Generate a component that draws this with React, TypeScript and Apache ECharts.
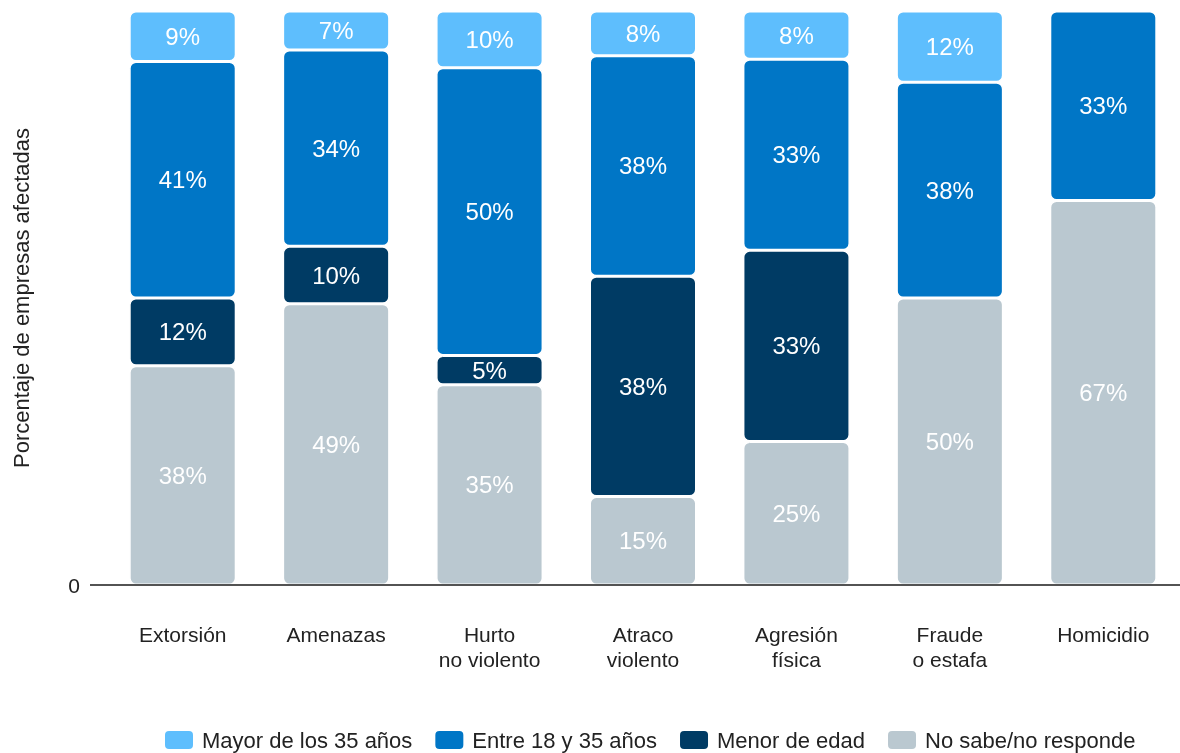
import React, { useEffect, useRef } from "react";
import * as echarts from "echarts";

const categories = [
  "Extorsión",
  "Amenazas",
  "Hurto\nno violento",
  "Atraco\nviolento",
  "Agresión\nfísica",
  "Fraude\no estafa",
  "Homicidio",
];

const noSabe = [38.2, 49.0, 34.9, 15.4, 25.0, 50.0, 67.0];
const menor = [11.8, 10.0, 5.1, 38.4, 33.3, 0, 0];
const entre = [41.2, 34.2, 50.1, 38.4, 33.3, 37.6, 33.0];
const mayor = [8.8, 6.8, 9.9, 7.8, 8.4, 12.4, 0];

const yTicks = [0, 100];

const FONT = "Liberation Sans, Arial, sans-serif";

export default function App() {
  const ref = useRef<HTMLDivElement>(null);

  useEffect(() => {
    if (!ref.current) return;
    const chart = echarts.init(ref.current, null, { renderer: "svg" });

    const mkSeries = (name: string, data: number[], color: string) => ({
      name,
      type: "bar",
      stack: "total",
      barWidth: 107,
      data: data.map((v) => (v > 0 ? v : null)),
      itemStyle: {
        color,
        borderRadius: 6,
        borderColor: "#ffffff",
        borderWidth: 1.5,
      },
      label: {
        show: true,
        position: "inside",
        color: "#ffffff",
        fontSize: 24,
        fontFamily: FONT,
        formatter: (p: any) =>
          p.value && p.value > 0 ? Math.round(p.value) + "%" : "",
      },
    });

    chart.setOption({
      animation: false,
      textStyle: { fontFamily: FONT },
      grid: { left: 106, right: -2, top: 11, bottom: 168, containLabel: false },
      legend: {
        left: 158,
        bottom: -3,
        itemWidth: 30,
        itemHeight: 20,
        itemGap: 21,
        icon: "roundRect",
        textStyle: {
          fontSize: 22,
          color: "#222222",
          fontFamily: FONT,
          padding: [0, 0, 0, 3],
        },
        data: [
          "Mayor de los 35 años",
          "Entre 18 y 35 años",
          "Menor de edad",
          "No sabe/no responde",
        ],
      },
      xAxis: {
        type: "category",
        data: categories,
        axisLine: { show: false },
        axisTick: { show: false },
        axisLabel: {
          fontSize: 21,
          color: "#222222",
          fontFamily: FONT,
          margin: 37,
          lineHeight: 25,
          interval: 0,
        },
      },
      yAxis: {
        type: "value",
        min: yTicks[0],
        max: yTicks[1],
        interval: 100,
        name: "Porcentaje de empresas afectadas",
        nameLocation: "middle",
        nameGap: 74,
        nameTextStyle: { fontSize: 22, color: "#222222", fontFamily: FONT },
        axisLine: { show: false },
        axisTick: { show: false },
        splitLine: { show: false },
        axisLabel: {
          fontSize: 21,
          color: "#222222",
          fontFamily: FONT,
          margin: 26,
          formatter: (v: number) => (v === 0 ? "0" : ""),
        },
      },
      graphic: [
        {
          type: "line",
          shape: { x1: 90, y1: 585, x2: 1180, y2: 585 },
          style: { stroke: "#1a1a1a", lineWidth: 1.5 },
          z: 10,
        },
      ],
      series: [
        mkSeries("No sabe/no responde", noSabe, "#BAC8D0"),
        mkSeries("Menor de edad", menor, "#003B64"),
        mkSeries("Entre 18 y 35 años", entre, "#0076C6"),
        mkSeries("Mayor de los 35 años", mayor, "#5EBEFD"),
      ],
    });

    return () => chart.dispose();
  }, []);

  return (
    <div
      ref={ref}
      style={{ position: "fixed", left: 0, top: 0, width: 1180, height: 753 }}
    />
  );
}
